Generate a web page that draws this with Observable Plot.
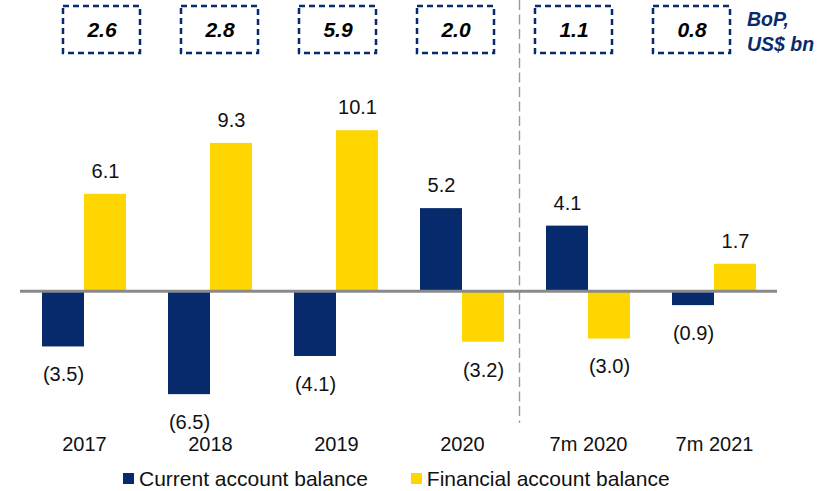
<!DOCTYPE html>
<html>
<head>
<meta charset="utf-8">
<script src="https://cdn.jsdelivr.net/npm/d3@7"></script>
<script src="https://cdn.jsdelivr.net/npm/@observablehq/plot@0.6"></script>
<style>
  html, body { margin: 0; padding: 0; background: white; }
  #wrap { position: relative; width: 837px; height: 491px; font-family: "Liberation Sans", Arial, sans-serif; }
  #wrap svg { position: absolute; left: 0; top: 0; }
  #unit { position: absolute; left: 747px; top: 7px; color: #0b2a6b; font-weight: bold; font-style: italic; font-size: 19.5px; line-height: 25px; }
  #legend { position: absolute; left: 123px; top: 466px; height: 25px; display: flex; align-items: center; font-size: 21px; color: #111; line-height: 25px; }
  .sw { width: 11px; height: 11px; display: inline-block; margin-right: 5px; }
  .item { display: flex; align-items: center; margin-right: 43px; }
</style>
</head>
<body>
<div id="wrap"></div>
<script>
const categories = ["2017", "2018", "2019", "2020", "7m 2020", "7m 2021"];
const currentAccount = [-3.5, -6.5, -4.1, 5.2, 4.1, -0.9];
const financialAccount = [6.1, 9.3, 10.1, -3.2, -3.0, 1.7];
const bopTotals = [2.6, 2.8, 5.9, 2.0, 1.1, 0.8];
const seriesNames = ["Current account balance", "Financial account balance"];

const NAVY = "#062a6c";
const YELLOW = "#ffd600";

const rows = categories.map((c, i) => ({cat: c, current: currentAccount[i], financial: financialAccount[i], bop: bopTotals[i]}));
const fmt = v => v < 0 ? `(${d3.format(".1f")(-v)})` : d3.format(".1f")(v);

const labelOpts = {fontSize: 20, fill: "#111"};

const main = Plot.plot({
  width: 837,
  height: 460,
  marginTop: 100,
  marginBottom: 42,
  marginLeft: 20,
  marginRight: 60,
  style: {background: "transparent", fontFamily: "Liberation Sans, Arial, sans-serif"},
  x: {domain: categories, paddingInner: 1/3, paddingOuter: 1/6, label: null},
  y: {domain: [-8, 12], axis: null},
  marks: [
    Plot.axisX({tickSize: 0, tickPadding: 18, fontSize: 20, fill: "#111", label: null}),
    Plot.ruleX([categories[3]], {x: d => d, dx: 57, stroke: "#9a9a9a", strokeWidth: 1.4, strokeDasharray: "10,4.5", insetTop: -100, insetBottom: -5}),
    Plot.barY(rows, {x: "cat", y: "current", fill: NAVY, insetRight: 42}),
    Plot.barY(rows, {x: "cat", y: "financial", fill: YELLOW, insetLeft: 42}),
    Plot.ruleY([0], {stroke: "#8a8a8a", strokeWidth: 3}),
    Plot.text(rows.filter(d => d.current >= 0), {x: "cat", y: "current", text: d => fmt(d.current), dx: -21, dy: -23, ...labelOpts}),
    Plot.text(rows.filter(d => d.current < 0), {x: "cat", y: "current", text: d => fmt(d.current), dx: -21, dy: 28, ...labelOpts}),
    Plot.text(rows.filter(d => d.financial >= 0), {x: "cat", y: "financial", text: d => fmt(d.financial), dx: 21, dy: -23, ...labelOpts}),
    Plot.text(rows.filter(d => d.financial < 0), {x: "cat", y: "financial", text: d => fmt(d.financial), dx: 21, dy: 28, ...labelOpts})
  ]
});

const boxes = Plot.plot({
  width: 837,
  height: 60,
  marginTop: 6,
  marginBottom: 7,
  marginLeft: 42.5,
  marginRight: 86.5,
  style: {background: "transparent", fontFamily: "Liberation Sans, Arial, sans-serif"},
  x: {domain: categories, paddingInner: 0.347, paddingOuter: 0.1735, axis: null},
  marks: [
    Plot.cell(rows, {x: "cat", fill: "none", stroke: NAVY, strokeWidth: 2.5, strokeDasharray: "6,4"}),
    Plot.text(rows, {x: "cat", frameAnchor: "middle", text: d => d3.format(".1f")(d.bop), fontSize: 21, fontWeight: "bold", fontStyle: "italic", fill: "#000"})
  ]
});

const wrap = document.getElementById("wrap");
wrap.appendChild(main);
wrap.appendChild(boxes);

const unit = document.createElement("div");
unit.id = "unit";
unit.innerHTML = "BoP,<br>US$ bn";
wrap.appendChild(unit);

const legend = document.createElement("div");
legend.id = "legend";
[NAVY, YELLOW].forEach((col, i) => {
  const it = document.createElement("div");
  it.className = "item";
  const sw = document.createElement("span");
  sw.className = "sw";
  sw.style.background = col;
  const tx = document.createElement("span");
  tx.textContent = seriesNames[i];
  it.appendChild(sw);
  it.appendChild(tx);
  legend.appendChild(it);
});
wrap.appendChild(legend);
</script>
</body>
</html>
